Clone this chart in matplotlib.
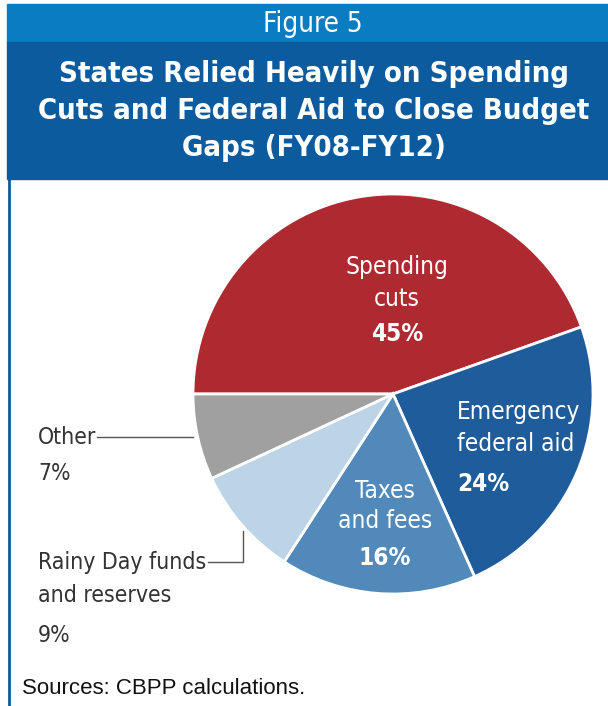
import matplotlib
matplotlib.use("Agg")
import matplotlib.pyplot as plt
from matplotlib.patches import Rectangle
from matplotlib.lines import Line2D

# data
categories = ["Spending cuts", "Emergency federal aid", "Taxes and fees",
              "Rainy Day funds and reserves", "Other"]
shares = [45, 24, 16, 9, 7]
colors = ["#AF2931", "#1F5C9B", "#5189BA", "#BCD4E6", "#A0A0A0"]

W, H = 608, 706
COND = dict(family="DejaVu Sans", fontstretch="condensed")


def fx(x):
    return x / W


def fy(y):
    return 1 - y / H


fig = plt.figure(figsize=(W / 100, H / 100), dpi=100)

# header bands and left rule
fig.patches.append(Rectangle((fx(7), fy(42)), fx(608 - 7), 38 / H,
                             transform=fig.transFigure, color="#0A7DC2"))
fig.patches.append(Rectangle((fx(7), fy(179)), fx(608 - 7), 137 / H,
                             transform=fig.transFigure, color="#0B5B9E"))
fig.lines.append(Line2D([fx(8.5), fx(8.5)], [0, fy(179)], transform=fig.transFigure,
                        color="#0B5B9E", lw=2))

fig.text(fx(313), fy(24), "Figure 5", color="white", fontsize=20,
         ha="center", va="center", **COND)
fig.text(fx(314), fy(111),
         "States Relied Heavily on Spending\nCuts and Federal Aid to Close Budget\nGaps (FY08-FY12)",
         color="white", fontsize=21, weight="bold",
         ha="center", va="center", linespacing=1.4, **COND)

# pie
ax = fig.add_axes([fx(193), fy(594), 400 / W, 400 / H])
ax.pie(shares, colors=colors, startangle=180, counterclock=False,
       wedgeprops=dict(edgecolor="white", linewidth=2))
ax.set_xlim(-1, 1)
ax.set_ylim(-1, 1)
ax.set_aspect("equal")
ax.axis("off")

# slice labels
fs = 17.5
fig.text(fx(397), fy(283), "Spending\ncuts", color="white", fontsize=fs,
         ha="center", va="center", linespacing=1.42, **COND)
fig.text(fx(397), fy(334), "45%", color="white", fontsize=fs,
         weight="bold", ha="center", va="center", **COND)
fig.text(fx(457), fy(428), "Emergency\nfederal aid", color="white", fontsize=fs,
         ha="left", va="center", linespacing=1.46, **COND)
fig.text(fx(457), fy(484), "24%", color="white", fontsize=fs,
         weight="bold", ha="left", va="center", **COND)
fig.text(fx(385), fy(506), "Taxes\nand fees", color="white", fontsize=fs,
         ha="center", va="center", linespacing=1.32, **COND)
fig.text(fx(385), fy(558), "16%", color="white", fontsize=fs,
         weight="bold", ha="center", va="center", **COND)

# outside labels
fo = 16.5
fig.text(fx(38), fy(437), "Other", color="#333333", fontsize=fo,
         ha="left", va="center", **COND)
fig.text(fx(38), fy(474), "7%", color="#333333", fontsize=fo,
         ha="left", va="center", **COND)
fig.lines.append(Line2D([fx(97), fx(193)], [fy(437), fy(437)],
                        transform=fig.transFigure, color="#555555", lw=1))

fig.text(fx(38), fy(579), "Rainy Day funds\nand reserves", color="#333333",
         fontsize=fo, ha="left", va="center", linespacing=1.6, **COND)
fig.text(fx(38), fy(635), "9%", color="#333333", fontsize=fo,
         ha="left", va="center", **COND)
fig.lines.append(Line2D([fx(208), fx(243), fx(243)], [fy(562), fy(562), fy(531)],
                        transform=fig.transFigure, color="#555555", lw=1))

fig.text(fx(22), fy(688), "Sources: CBPP calculations.", color="#111111",
         fontsize=16, family=["Liberation Sans", "DejaVu Sans"],
         ha="left", va="center")

fig.savefig("out.png", dpi=100)
